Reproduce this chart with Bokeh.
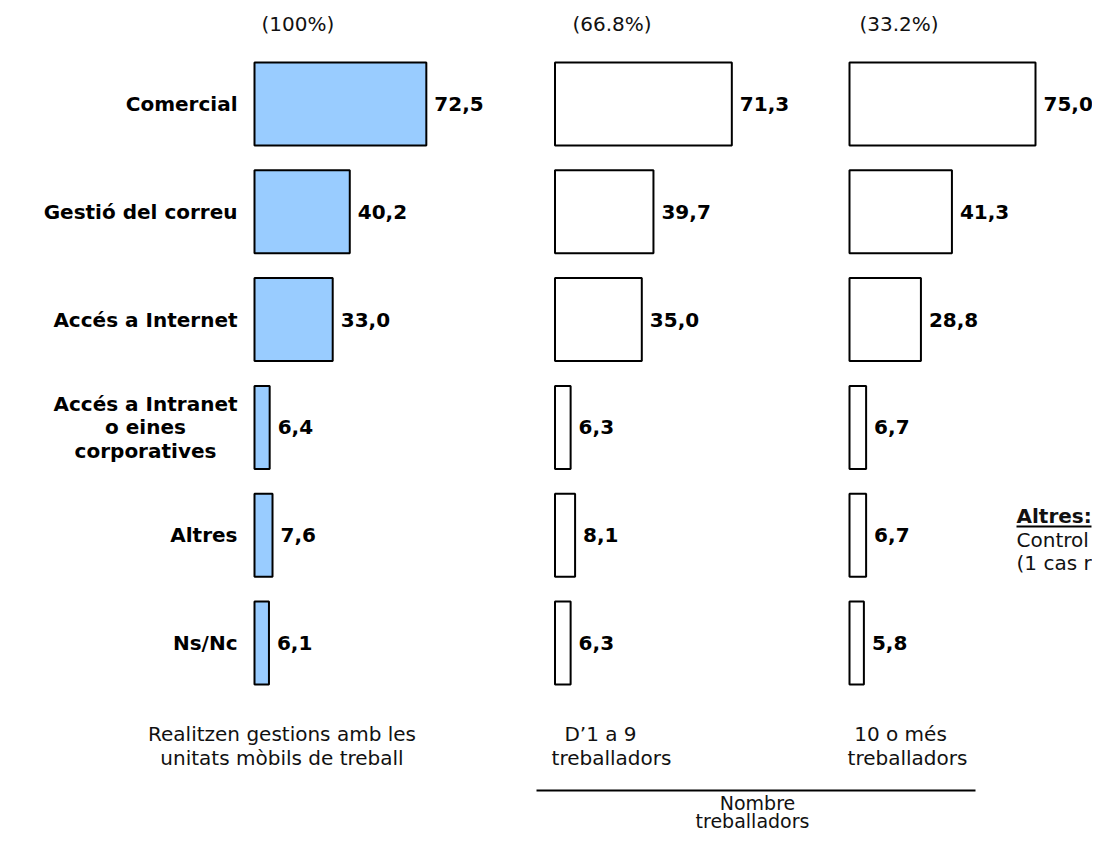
from bokeh.plotting import figure
from bokeh.models import Range1d
from bokeh.core.properties import value
from bokeh.embed import file_html
from bokeh.resources import INLINE

# ---------------- data ----------------
categories = ["Comercial", "Gestió del correu", "Accés a Internet",
              "Accés a Intranet\no eines\ncorporatives", "Altres", "Ns/Nc"]
total = [72.5, 40.2, 33.0, 6.4, 7.6, 6.1]
d1_9 = [71.3, 39.7, 35.0, 6.3, 8.1, 6.3]
d10_more = [75.0, 41.3, 28.8, 6.7, 6.7, 5.8]
headers = ["(100%)", "(66.8%)", "(33.2%)"]
group_labels = [["Realitzen gestions amb les", "unitats mòbils de treball"],
                ["D’1 a 9", "treballadors"],
                ["10 o més", "treballadors"]]
group_title = ["Nombre", "treballadors"]
note_title = "Altres:"
note_lines = ["Control", "(1 cas r"]

# ---------------- layout ----------------
W, H = 1092, 836
FONT = value("DejaVu Sans")
rows = list(range(len(categories)))
ROW_PX = 107.8
TOP = -103.5 / ROW_PX

p = figure(width=W, height=H, output_backend="svg", toolbar_location=None,
           x_range=Range1d(0, W), y_range=Range1d(TOP + H / ROW_PX, TOP),
           x_axis_location=None, y_axis_location=None, min_border=0)
p.grid.visible = False
p.outline_line_color = None
p.background_fill_color = "white"
p.border_fill_color = "white"

# per-panel value scales (left edge in px, px per unit)
panels = [("p1", 254, 2.37, total, "#99CCFF"),
          ("p2", 554.5, 2.48, d1_9, "white"),
          ("p3", 849, 2.48, d10_more, "white")]
p.extra_x_ranges = {name: Range1d(-left / s, (W - left) / s) for name, left, s, _, _ in panels}
p.extra_y_ranges = {"page": Range1d(H, 0)}

def fmt(v):
    return f"{v:.1f}".replace(".", ",")

for name, left, s, vals, fill in panels:
    p.hbar(y=rows, left=0, right=vals, height=0.77, x_range_name=name,
           fill_color=fill, line_color="black", line_width=2)
    p.text(x=vals, y=rows, text=[fmt(v) for v in vals], x_range_name=name,
           x_offset=8, text_baseline="middle", text_align="left",
           text_font=FONT, text_font_style="bold", text_font_size="20px",
           text_color="black")

# category labels
for r, cat in zip(rows, categories):
    lines = cat.split("\n")
    if len(lines) == 1:
        p.text(x=[237], y=[r], text=[cat], text_align="right", text_baseline="middle",
               text_font=FONT, text_font_style="bold", text_font_size="20px",
               text_color="black")
    else:
        n = len(lines)
        for k, ln in enumerate(lines):
            off = (k - (n - 1) / 2) * 23.5
            p.text(x=[145], y=[r], text=[ln], y_offset=off, text_align="center",
                   text_baseline="middle", text_font=FONT, text_font_style="bold",
                   text_font_size="20px", text_color="black")

def page_text(x, y, t, align="left", bold=False, size="20px"):
    p.text(x=[x], y=[y], text=[t], y_range_name="page", text_align=align,
           text_baseline="middle", text_font=FONT,
           text_font_style="bold" if bold else "normal",
           text_font_size=size, text_color="#111111")

# headers
for hx, h in zip([261, 572, 859], headers):
    page_text(hx, 23, h)

# bottom group labels
for (cx1, cx2), lbl in zip([(281.5, 281.5), (600, 611), (900, 907)], group_labels):
    page_text(cx1, 733, lbl[0], align="center")
    page_text(cx2, 757, lbl[1], align="center")

# separator line and group title
p.segment(x0=[536], y0=[790], x1=[975], y1=[790], y_range_name="page",
          line_color="black", line_width=2)
page_text(757, 802, group_title[0], align="center", size="19px")
page_text(752, 820, group_title[1], align="center", size="19px")

# side note
page_text(1016, 515, note_title, bold=True)
p.segment(x0=[1016], y0=[526], x1=[1091], y1=[526], y_range_name="page",
          line_color="black", line_width=2)
page_text(1016, 539, note_lines[0])
page_text(1016, 562, note_lines[1])

open("out.html", "w").write(file_html(p, INLINE))
